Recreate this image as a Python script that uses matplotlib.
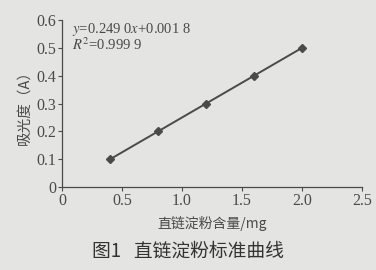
import matplotlib
matplotlib.use("Agg")
import matplotlib.pyplot as plt

# data
amylose_mg = [0.4, 0.8, 1.2, 1.6, 2.0]
absorbance = [0.1, 0.2, 0.3, 0.4, 0.5]
x_ticks = [0, 0.5, 1.0, 1.5, 2.0, 2.5]
x_tick_labels = ["0", "0.5", "1.0", "1.5", "2.0", "2.5"]
y_ticks = [0, 0.1, 0.2, 0.3, 0.4, 0.5, 0.6]
y_tick_labels = ["0", "0.1", "0.2", "0.3", "0.4", "0.5", "0.6"]

BG = "#e4e4e2"
INK = "#4a4a4a"
CJK = ["Noto Sans CJK SC", "DejaVu Sans"]
SERIF = "Liberation Serif"

plt.rcParams["mathtext.fontset"] = "stix"

fig = plt.figure(figsize=(3.76, 2.70), dpi=100, facecolor=BG)
ax = fig.add_axes([0.165, 0.307, 0.798, 0.619], facecolor=BG)

ax.plot(amylose_mg, absorbance, color=INK, linewidth=1.4, marker="D",
        markersize=4.5, markerfacecolor=INK, markeredgecolor=INK)

ax.set_xlim(0, 2.5)
ax.set_ylim(0, 0.6)
ax.set_xticks(x_ticks)
ax.set_xticklabels(x_tick_labels, fontfamily=SERIF, fontsize=11.5, color=INK)
ax.set_yticks(y_ticks)
ax.set_yticklabels(y_tick_labels, fontfamily=SERIF, fontsize=11.5, color=INK)
ax.tick_params(axis="both", length=3, width=0.8, color=INK, pad=1)
for s in ["top", "right"]:
    ax.spines[s].set_visible(False)
for s in ["left", "bottom"]:
    ax.spines[s].set_color(INK)
    ax.spines[s].set_linewidth(0.9)

ax.text(0.08, 0.565, r"$y$=0.249 0$x$+0.001 8", fontsize=10.5, color=INK,
        fontfamily=SERIF, va="center")
ax.text(0.08, 0.51, r"$R^2$=0.999 9", fontsize=10.5, color=INK,
        fontfamily=SERIF, va="center")

ax.set_xlabel("直链淀粉含量/mg", fontfamily=CJK, fontsize=10, color=INK, labelpad=5)
ax.set_ylabel("吸光度（A）", fontfamily=CJK, fontsize=10.5, color=INK, labelpad=4)

fig.text(0.5, 0.07, "图1   直链淀粉标准曲线", fontfamily=CJK, fontsize=13.5,
         color="#333333", ha="center", va="center")

fig.savefig("out.png", dpi=100, facecolor=BG)
